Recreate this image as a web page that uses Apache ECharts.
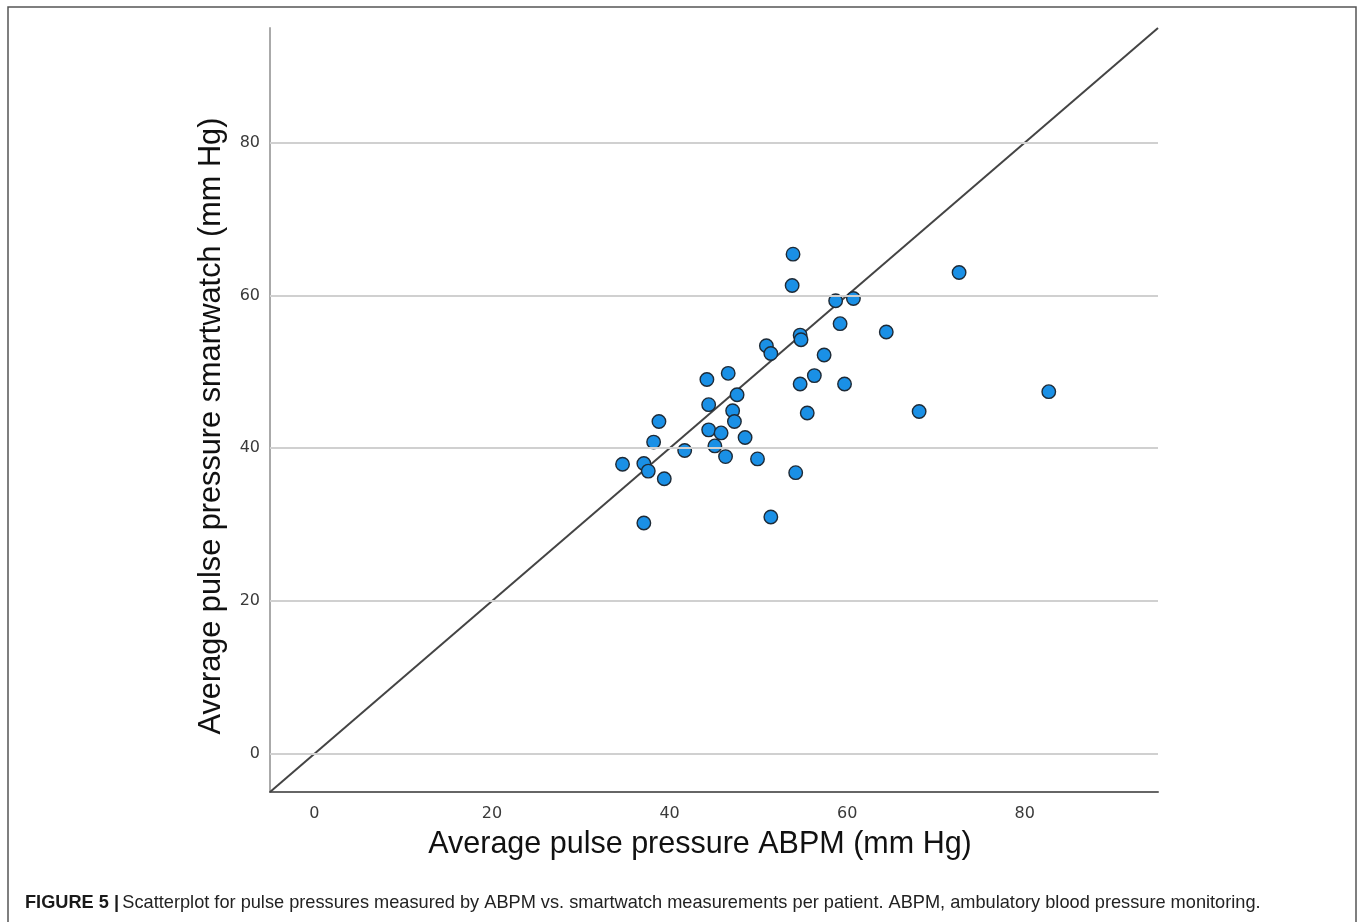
<!DOCTYPE html>
<html>
<head>
<meta charset="utf-8">
<script src="https://cdn.jsdelivr.net/npm/echarts@6/dist/echarts.min.js"></script>
<style>
html,body{margin:0;padding:0;background:#fff;}
#chart{width:1360px;height:922px;}
</style>
</head>
<body>
<div id="chart"></div>
<script>
// ABPM average pulse pressure (x) and smartwatch average pulse pressure (y), mm Hg
const abpm = [53.9, 53.8, 58.7, 60.7, 59.2, 64.4, 54.7, 54.8, 50.9, 51.4,
              57.4, 46.6, 44.2, 56.3, 54.7, 59.7, 47.6, 44.4, 47.1, 55.5,
              38.8, 47.3, 44.4, 45.8, 48.5, 38.2, 45.1, 41.7, 46.3, 49.9,
              34.7, 37.1, 37.6, 39.4, 54.2, 51.4, 37.1, 72.6, 82.7, 68.1];
const watch = [65.4, 61.3, 59.3, 59.6, 56.3, 55.2, 54.8, 54.2, 53.4, 52.4,
               52.2, 49.8, 49.0, 49.5, 48.4, 48.4, 47.0, 45.7, 44.9, 44.6,
               43.5, 43.5, 42.4, 42.0, 41.4, 40.8, 40.3, 39.7, 38.9, 38.6,
               37.9, 38.0, 37.0, 36.0, 36.8, 31.0, 30.2, 63.0, 47.4, 44.8];
// identity reference line endpoints
const refX = [-5, 95];
const refY = [-5, 95];
const tickValues = [0, 20, 40, 60, 80];
const axisMin = -5, axisMax = 95;

const points = abpm.map((v, i) => [v, watch[i]]);
const refLine = refX.map((v, i) => [v, refY[i]]);

const chart = echarts.init(document.getElementById('chart'), null, {renderer: 'canvas'});
const tickFmt = v => (tickValues.indexOf(Math.round(v)) >= 0 && Math.abs(v - Math.round(v)) < 1e-6) ? String(Math.round(v)) : '';

chart.setOption({
  animation: false,
  backgroundColor: '#ffffff',
  grid: {left: 270, right: 202, top: 28, bottom: 130, containLabel: false},
  xAxis: {
    type: 'value', min: axisMin, max: axisMax, interval: 5,
    axisLine: {show: true, onZero: false, lineStyle: {color: '#666', width: 2}},
    axisTick: {show: false},
    splitLine: {show: false},
    axisLabel: {formatter: tickFmt, color: '#3a3a3a', fontFamily: 'DejaVu Sans', fontSize: 16, margin: 14, showMinLabel: true, showMaxLabel: true}
  },
  yAxis: {
    type: 'value', min: axisMin, max: axisMax, interval: 5,
    axisLine: {show: true, onZero: false, lineStyle: {color: '#aaa', width: 2}},
    axisTick: {show: false},
    splitLine: {show: false},
    axisLabel: {formatter: tickFmt, color: '#3a3a3a', fontFamily: 'DejaVu Sans', fontSize: 16, margin: 10}
  },
  series: [
    {
      type: 'line', data: refLine, symbol: 'none', silent: true, z: 3,
      lineStyle: {color: '#444', width: 2},
      markLine: {
        silent: true, symbol: 'none', label: {show: false},
        lineStyle: {color: '#d0d0d0', width: 2, type: 'solid'},
        data: tickValues.map(v => ({yAxis: v}))
      }
    },
    {
      type: 'scatter', data: points, symbol: 'circle', symbolSize: 13.5, z: 4,
      itemStyle: {color: '#1a90e6', borderColor: '#1e2a36', borderWidth: 1.4, opacity: 1}
    }
  ],
  graphic: [
    {type: 'rect', shape: {x: 8, y: 7, width: 1348, height: 940}, style: {fill: 'none', stroke: '#555', lineWidth: 1.5}, silent: true},
    {type: 'text', x: 700, y: 845, style: {text: 'Average pulse pressure ABPM (mm Hg)', font: '30.5px "Liberation Sans", Arial, sans-serif', fill: '#111', align: 'center', verticalAlign: 'middle'}},
    {type: 'text', x: 212, y: 426, rotation: Math.PI / 2, style: {text: 'Average pulse pressure smartwatch (mm Hg)', font: '30.7px "Liberation Sans", Arial, sans-serif', fill: '#111', align: 'center', verticalAlign: 'middle'}},
    {type: 'text', x: 25, y: 903, style: {
      text: '{b|FIGURE 5 |} {n|Scatterplot for pulse pressures measured by ABPM vs. smartwatch measurements per patient. ABPM, ambulatory blood pressure monitoring.}',
      verticalAlign: 'middle', align: 'left',
      rich: {
        b: {font: 'bold 18.2px "Liberation Sans", Arial, sans-serif', fill: '#1a1a1a'},
        n: {font: '18.2px "Liberation Sans", Arial, sans-serif', fill: '#222'}
      }
    }}
  ]
});
</script>
</body>
</html>
